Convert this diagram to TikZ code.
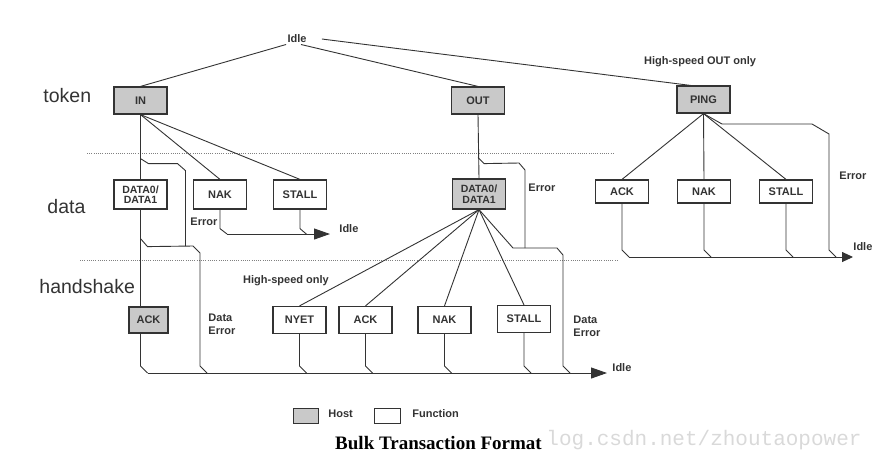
\documentclass[tikz,border=0pt]{standalone}
\usepackage{fontspec}
\setmainfont{Liberation Sans}
\newfontfamily\capfont{Liberation Serif}
\newfontfamily\wmfont{Liberation Mono}
\usetikzlibrary{arrows.meta,calc}

\begin{document}
\begin{tikzpicture}[x=1pt,y=-1pt,line width=0.9pt,color=black!80,
  host/.style={draw=black!80,line width=1.2pt,fill=gray!42,minimum width=53pt,minimum height=27pt,inner sep=1pt,align=center,font=\fontsize{11}{10.5}\selectfont\bfseries},
  func/.style={host,fill=white},
  lbl/.style={inner sep=1pt,align=left,font=\fontsize{11}{13}\selectfont\bfseries},
  row/.style={anchor=west,inner sep=0pt,font=\fontsize{19.5}{20}\selectfont},
  flow/.style={-{Triangle[length=16pt,width=11pt]}},
  sep/.style={gray,line width=0.8pt,dash pattern=on 1pt off 1.2pt}]
  \useasboundingbox (0,0) rectangle (890,459);

  % Phases
  \node[row] (token) at (43,96) {token};
  \node[row] (data) at (47,207) {data};
  \node[row] (hand) at (39,287) {handshake};
  \draw[sep] (87,153) -- (613,153);
  \draw[sep] (80,260) -- (617,260);

  % Token row
  \node[lbl] (idle) at (297,39) {Idle};
  \node[host] (IN) at (140.5,100.5) {IN};
  \node[host] (OUT) at (478,100.5) {OUT};
  \node[host] (PING) at (703.5,99.5) {PING};
  \node[lbl] (hsout) at (700,62) {High-speed OUT only};

  % Data row
  \node[func,minimum height=29pt,font=\fontsize{10.5}{10.5}\selectfont\bfseries] (dIN) at (140.5,194.5) {DATA0/\\DATA1};
  \node[func,minimum height=29pt] (nakA) at (220,194.5) {NAK};
  \node[func,minimum height=29pt] (stallA) at (300,194.5) {STALL};
  \node[host,minimum height=30pt,font=\fontsize{10.5}{10.5}\selectfont\bfseries] (dOUT) at (479,194) {DATA0/\\DATA1};
  \node[func,minimum height=23pt] (ackC) at (622,191.5) {ACK};
  \node[func,minimum height=23pt] (nakC) at (704,191.5) {NAK};
  \node[func,minimum height=23pt] (stallC) at (786,191.5) {STALL};

  % Handshake row
  \node[host,minimum width=39pt,minimum height=26pt] (ackH) at (148.5,320) {ACK};
  \node[lbl] (hsonly) at (286,281) {High-speed only};
  \node[func] (nyet) at (299.5,320) {NYET};
  \node[func] (ackB) at (365.5,320) {ACK};
  \node[func] (nakB) at (444.5,320) {NAK};
  \node[func] (stallB) at (524,319) {STALL};

  % Error labels
  \node[lbl,anchor=west] (errA) at (189,222) {Error};
  \node[lbl,anchor=west] (derrA) at (207,324) {Data\\Error};
  \node[lbl,anchor=west] (errB) at (527,188) {Error};
  \node[lbl,anchor=west] (derrB) at (572,326) {Data\\Error};
  \node[lbl,anchor=west] (errC) at (838,176) {Error};

  % Back to idle
  \coordinate (busA) at (227,234);
  \coordinate (tipA) at (330,234);
  \node[lbl,anchor=west] (idleA) at (338,229) {Idle};
  \coordinate (busB) at (147.5,373);
  \coordinate (tipB) at (607,373);
  \node[lbl,anchor=west] (idleB) at (611,368) {Idle};
  \coordinate (busC) at (629,257);
  \coordinate (tipC) at (853,257);
  \node[lbl,anchor=west] (idleC) at (852,247) {Idle};

  % Idle to tokens
  \draw (idle.south west) -- (IN.north);
  \draw ([xshift=14pt]idle.east) -- ([xshift=-13pt]PING.north);
  \draw ([xshift=4pt]idle.south) -- (OUT.north);

  % IN transaction
  \draw (IN.south) -- (dIN.north);
  \draw (IN.south) -- (nakA.north);
  \draw (IN.south) -- (stallA.north);
  \draw ([yshift=-44pt]IN.south) -- ++(8,5) -- ++(29,0) -- ++(8,7) -- (185.5,246);
  \draw (dIN.south) -- ++(0,29) -- ++(7,8) -- (193,246) -- ++(7,7) -- (200,366) -- ++(7,7);
  \draw (dIN.south) -- (dIN.south |- ackH.north);
  \draw (dIN.south |- ackH.south) -- ($(busB)+(-7,-7)$) -- (busB);
  \draw (nakA.south) -- ++(0,19) -- (busA);
  \draw (stallA.south) -- ++(0,19) -- ++(7,6);
  \draw[flow] (busA) -- (tipA);

  % OUT transaction
  \draw (OUT.south) -- (dOUT.north);
  \draw ([yshift=-43pt]OUT.south) -- ++(6,6) -- (519,163) -- ++(6,7) -- (525,248);
  \foreach \n in {nyet,ackB,nakB,stallB}
    \draw (dOUT.south) -- (\n.north);
  \draw (dOUT.south) -- (513,248) -- (557,248) -- ++(6,7) -- (563,366) -- ++(7,7);
  \foreach \n in {nyet,ackB,nakB,stallB}
    \draw (\n.south) -- ($(\n.south |- busB)+(0,-7)$) -- ++(7,7);
  \draw[flow] (busB) -- (tipB);

  % PING transaction
  \foreach \n in {ackC,nakC,stallC}
    \draw (PING.south) -- (\n.north);
  \draw (PING.south) -- (722,124) -- (812,124) -- (829,134) -- (829,250) -- (836,257);
  \foreach \n in {ackC,nakC,stallC}
    \draw (\n.south) -- ($(\n.south |- busC)+(0,-7)$) -- ++(7,7);
  \draw[-{Triangle[length=11pt,width=10pt]}] (busC) -- (tipC);

  % Legend and caption
  \node[host,minimum width=25pt,minimum height=15pt,line width=1pt] (keyH) at (305.5,415.5) {};
  \node[lbl,anchor=west] (keyHt) at (327,414) {Host};
  \node[func,minimum width=26pt,minimum height=15pt,line width=1pt] (keyF) at (387,415.5) {};
  \node[lbl,anchor=west] (keyFt) at (411,414) {Function};
  \node[text=black,font=\capfont\bfseries\fontsize{19}{20}\selectfont] (cap) at (438.5,443) {Bulk Transaction Format};
  \node[anchor=west,inner sep=0pt,text=gray!30,font=\wmfont\fontsize{21}{22}\selectfont] (wm) at (546,440) {log.csdn.net/zhoutaopower};
\end{tikzpicture}
\end{document}
